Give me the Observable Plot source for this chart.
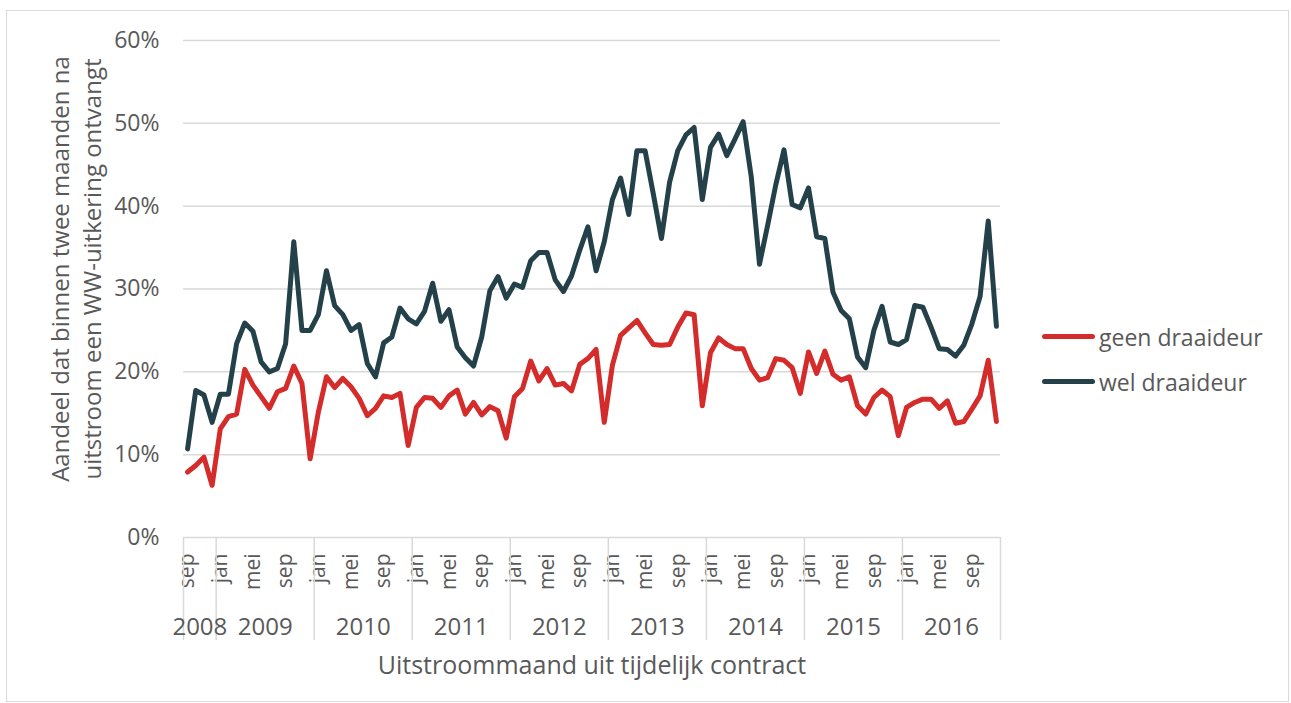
<!DOCTYPE html>
<html><head><meta charset="utf-8">
<script src="https://cdn.jsdelivr.net/npm/d3@7"></script>
<script src="https://cdn.jsdelivr.net/npm/@observablehq/plot@0.6"></script>
<style>
body{margin:0;background:#fff;}
#wrap{position:relative;width:1291px;height:703px;font-family:"Open Sans", sans-serif;}
#frame{position:absolute;left:6px;top:10px;width:1283px;height:692px;border:1px solid #d9d9d9;box-sizing:border-box;}
#chart{position:absolute;left:0;top:0;}
#legend{position:absolute;left:1042px;top:314px;color:#595959;font-size:23px;}
.item{display:flex;align-items:center;height:45px;}
.sw{width:53px;height:5px;border-radius:3px;margin-right:4px;}
</style></head>
<body><div id="wrap"><div id="frame"></div><div id="chart"></div><div id="legend"></div></div>
<script>
// Months: sep 2008 .. dec 2016
const startYear = 2008, startMonth = 8; // september (0-based)
const monthNames = ["jan","feb","mrt","apr","mei","jun","jul","aug","sep","okt","nov","dec"];
const labelMonths = ["jan","mei","sep"];
const years = [2008,2009,2010,2011,2012,2013,2014,2015,2016];
const seriesNames = ["geen draaideur","wel draaideur"];
const seriesColors = ["#d42b2b","#24414a"];
const yTicks = [0,0.1,0.2,0.3,0.4,0.5,0.6];
const yTitle = "Aandeel dat binnen twee maanden na\nuitstroom een WW-uitkering ontvangt";
const xTitle = "Uitstroommaand uit tijdelijk contract";

// percentages
const geen = [7.9,8.7,9.7,6.3,13.1,14.6,14.9,20.3,18.4,17.0,15.6,17.6,18.0,20.7,18.6,9.5,15.1,19.4,18.1,19.2,18.2,16.8,14.7,15.6,17.1,
16.9,17.4,11.1,15.7,16.9,16.8,15.7,17.1,17.8,14.9,16.3,14.8,15.8,15.3,12.0,17.0,18.0,21.3,18.9,20.4,18.4,18.6,17.7,20.9,21.6,
22.7,13.9,20.8,24.4,25.3,26.2,24.7,23.3,23.2,23.3,25.4,27.1,26.9,15.9,22.3,24.1,23.3,22.8,22.8,20.4,19.0,19.3,21.6,21.4,20.5,
17.4,22.4,19.8,22.5,19.7,19.0,19.4,15.9,14.9,16.9,17.8,17.0,12.3,15.7,16.3,16.7,16.7,15.6,16.5,13.8,14.0,15.5,17.1,21.4,14.0];
const wel = [10.7,17.75,17.2,13.9,17.3,17.3,23.4,25.9,24.9,21.2,20.0,20.4,23.4,35.7,25.0,25.0,26.9,32.2,28.0,26.9,25.0,25.7,21.0,19.4,23.5,
24.2,27.7,26.4,25.8,27.3,30.7,26.1,27.5,23.0,21.7,20.7,24.2,29.8,31.5,28.9,30.6,30.2,33.4,34.4,34.4,31.1,29.7,31.6,34.7,37.5,
32.2,35.7,40.8,43.4,39.0,46.7,46.7,41.5,36.1,42.9,46.7,48.6,49.5,40.8,47.1,48.7,46.1,48.1,50.2,43.5,33.0,37.7,42.6,46.8,40.2,
39.8,42.2,36.3,36.1,29.6,27.4,26.4,21.8,20.5,25.0,27.9,23.6,23.3,23.9,28.0,27.8,25.4,22.8,22.7,21.9,23.2,25.8,29.1,38.2,25.5];

const n = geen.length;
const months = d3.range(n).map(i => {
  const m = startMonth + i;
  return {i, year: startYear + Math.floor(m / 12), month: m % 12};
});
const data = [
  ...geen.map((v, i) => ({i, v: v / 100, s: seriesNames[0]})),
  ...wel.map((v, i) => ({i, v: v / 100, s: seriesNames[1]}))
];
const monthTicks = months.filter(d => labelMonths.includes(monthNames[d.month])).map(d => d.i);
const yearSpans = years.map(y => {
  const ms = months.filter(d => d.year === y);
  return {year: y, a: ms[0].i - 0.5, b: ms[ms.length - 1].i + 0.5};
});
const boundaries = [yearSpans[0].a, ...yearSpans.map(d => d.b)];
const yearCenters = yearSpans.map(d => (d.a + d.b) / 2);

const grey = "#595959", light = "#d9d9d9";
const chart = Plot.plot({
  width: 1291, height: 703,
  marginLeft: 183, marginRight: 291, marginTop: 40, marginBottom: 166,
  style: {fontFamily: "'Open Sans', sans-serif", color: grey, background: "transparent"},
  x: {type: "linear", domain: [-0.5, n - 0.5]},
  y: {domain: [0, 0.6]},
  color: {domain: seriesNames, range: seriesColors},
  marks: [
    Plot.gridY(yTicks.slice(1), {stroke: light, strokeOpacity: 1, strokeWidth: 1.5}),
    Plot.ruleY([0], {stroke: light, strokeWidth: 1.5}),
    Plot.axisY(yTicks, {tickFormat: d3.format(".0%"), tickSize: 0, tickPadding: 24, fontSize: 23, label: null}),
    Plot.axisX(monthTicks, {tickFormat: i => monthNames[months[i].month], tickRotate: -90, tickSize: 0, tickPadding: 16, fontSize: 21, label: null}),
    Plot.axisX(boundaries, {tickFormat: () => "", tickSize: 103, stroke: light, strokeWidth: 1.5, label: null}),
    Plot.axisX(yearCenters, {tickFormat: (c, k) => String(years[k]), tickSize: 0, tickPadding: 80, fontSize: 24, label: null}),
    Plot.line(data, {x: "i", y: "v", z: "s", stroke: "s", strokeWidth: 5, strokeLinejoin: "round", strokeLinecap: "round"}),
    Plot.text([yTitle], {text: d => d, frameAnchor: "left", textAnchor: "middle", rotate: -90, dx: -109, dy: -20, fontSize: 24, lineHeight: 1.33, fill: grey}),
    Plot.text([xTitle], {text: d => d, frameAnchor: "bottom", lineAnchor: "middle", dy: 128, fontSize: 25, fill: grey})
  ]
});
document.getElementById("chart").appendChild(chart);

const legend = document.getElementById("legend");
seriesNames.forEach((s, k) => {
  const it = document.createElement("div");
  it.className = "item";
  const sw = document.createElement("div");
  sw.className = "sw";
  sw.style.background = seriesColors[k];
  const t = document.createElement("span");
  t.textContent = s;
  it.appendChild(sw); it.appendChild(t);
  legend.appendChild(it);
});
</script>
</body></html>
